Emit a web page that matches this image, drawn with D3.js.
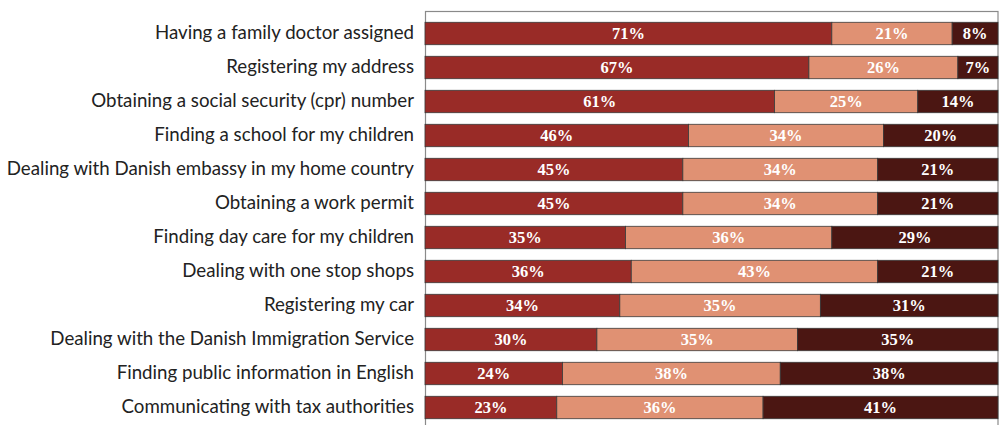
<!DOCTYPE html>
<html>
<head>
<meta charset="utf-8">
<script src="https://cdn.jsdelivr.net/npm/d3@7"></script>
<style>
  html, body { margin: 0; padding: 0; background: #fff; }
  svg { display: block; }
</style>
</head>
<body>
<svg id="chart" width="999" height="425"></svg>
<script>
// Survey items, top to bottom
const categories = [
  "Having a family doctor assigned",
  "Registering my address",
  "Obtaining a social security (cpr) number",
  "Finding a school for my children",
  "Dealing with Danish embassy in my home country",
  "Obtaining a work permit",
  "Finding day care for my children",
  "Dealing with one stop shops",
  "Registering my car",
  "Dealing with the Danish Immigration Service",
  "Finding public information in English",
  "Communicating with tax authorities"
];

// Share of respondents per answer group (percent)
const seriesA = [71, 67, 61, 46, 45, 45, 35, 36, 34, 30, 24, 23];
const seriesB = [21, 26, 25, 34, 34, 34, 36, 43, 35, 35, 38, 36];
const seriesC = [8, 7, 14, 20, 21, 21, 29, 21, 31, 35, 38, 41];

const seriesKeys = ["a", "b", "c"];
const colors = { a: "#992b27", b: "#e09173", c: "#4b1612" };

(function draw() {
  const rows = categories.map((name, i) => ({
    name, a: seriesA[i], b: seriesB[i], c: seriesC[i]
  }));

  const svg = d3.select("#chart");
  const plotLeft = 425, plotRight = 998, plotTop = 11;

  const x = d3.scaleLinear().domain([0, 100]).range([plotLeft, plotRight]);
  const y = d3.scaleBand()
    .domain(categories)
    .range([16.5, 424.5])
    .paddingInner(0.34)
    .paddingOuter(0.17);

  // plot frame
  svg.append("rect")
    .attr("x", plotLeft + 0.5).attr("y", plotTop + 0.5)
    .attr("width", plotRight - plotLeft - 0.5).attr("height", 440)
    .attr("fill", "none").attr("stroke", "#8a8a8a").attr("stroke-width", 1.2);

  const stacked = d3.stack().keys(seriesKeys)(rows);

  const layers = svg.append("g").selectAll("g")
    .data(stacked).join("g")
    .attr("fill", d => colors[d.key]);

  layers.selectAll("rect")
    .data(d => d).join("rect")
    .attr("x", d => x(d[0]))
    .attr("y", d => y(d.data.name))
    .attr("width", d => x(d[1]) - x(d[0]))
    .attr("height", y.bandwidth())
    .attr("stroke", "#3a3a3a")
    .attr("stroke-width", 0.8);

  // value labels in each segment
  layers.selectAll("text")
    .data(d => d).join("text")
    .attr("x", d => (x(d[0]) + x(d[1])) / 2)
    .attr("y", d => y(d.data.name) + y.bandwidth() / 2)
    .attr("dy", "0.36em")
    .attr("text-anchor", "middle")
    .attr("fill", "#fff")
    .attr("font-family", "'Liberation Serif', serif")
    .attr("font-weight", "bold")
    .attr("font-size", 16.5)
    .text(d => Math.round(d[1] - d[0]) + "%");

  // category axis
  const yAxis = d3.axisLeft(y).tickSize(0).tickPadding(11);
  const ag = svg.append("g").attr("transform", `translate(${plotLeft},0)`).call(yAxis);
  ag.select(".domain").remove();
  ag.selectAll("text")
    .attr("fill", "#222")
    .attr("font-family", "Lato, sans-serif")
    .attr("font-size", 18.7);
})();
</script>
</body>
</html>
